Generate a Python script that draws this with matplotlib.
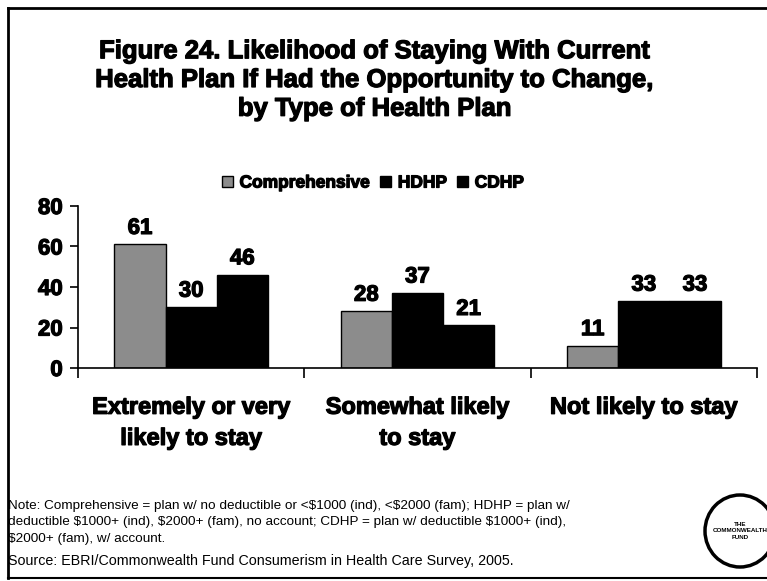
import numpy as np
from matplotlib import pyplot as plt
from matplotlib import patheffects
from matplotlib.patches import Ellipse
from matplotlib.lines import Line2D

# Data
categories = ['Extremely or very\nlikely to stay', 'Somewhat likely\nto stay', 'Not likely to stay']
series_names = ['Comprehensive', 'HDHP', 'CDHP']
comprehensive = [61, 28, 11]
hdhp = [30, 37, 33]
cdhp = [46, 21, 33]
y_ticks = [0, 20, 40, 60, 80]

title = ('Figure 24. Likelihood of Staying With Current\n'
         'Health Plan If Had the Opportunity to Change,\n'
         'by Type of Health Plan')
note = ('Note: Comprehensive = plan w/ no deductible or <\\$1000 (ind), <\\$2000 (fam); HDHP = plan w/\n'
        'deductible \\$1000+ (ind), \\$2000+ (fam), no account; CDHP = plan w/ deductible \\$1000+ (ind),\n'
        '\\$2000+ (fam), w/ account.')
source = 'Source: EBRI/Commonwealth Fund Consumerism in Health Care Survey, 2005.'

plt.rcParams['font.family'] = ['Liberation Sans', 'DejaVu Sans']

# the slide uses a heavy face; thicken the bold text a little
heavy = [patheffects.withStroke(linewidth=0.9, foreground='black')]

W, H = 767, 581
fig = plt.figure(figsize=(W / 100, H / 100), dpi=100)

# Frame round the slide
fig.add_artist(Line2D([8 / W, 8 / W], [1 - 8 / H, 1 - 578 / H], color='black', lw=2))
fig.add_artist(Line2D([8 / W, 1.0], [1 - 8 / H, 1 - 8 / H], color='black', lw=2))
fig.add_artist(Line2D([8 / W, 1.0], [1 - 578 / H, 1 - 578 / H], color='black', lw=1.5))

fig.text(375 / W, 1 - 80 / H, title, ha='center', va='center', fontsize=18.5,
         fontweight='bold', linespacing=1.25, path_effects=heavy)

ax = fig.add_axes([78 / W, 1 - 368 / H, (757 - 78) / W, (368 - 206) / H])

x = np.arange(len(categories))
width = 0.226
colors = ['#8c8c8c', 'black', 'black']
series = [comprehensive, hdhp, cdhp]
for i, (name, vals) in enumerate(zip(series_names, series)):
    bars = ax.bar(x + (i - 1) * width, vals, width, color=colors[i], edgecolor='black',
                  linewidth=1, label=name)
    for b, v in zip(bars, vals):
        ax.annotate(str(v), (b.get_x() + b.get_width() / 2, v), xytext=(0, 4),
                    textcoords='offset points', ha='center', va='bottom',
                    fontsize=16, fontweight='bold', path_effects=heavy)

ax.set_xlim(-0.5, 2.5)
ax.set_ylim(0, 80)
ax.set_yticks(y_ticks)
ax.set_yticklabels([str(t) for t in y_ticks], fontsize=16, fontweight='bold', path_effects=heavy)
ax.tick_params(axis='y', length=6, width=1.2, pad=5)

ax.set_xticks(x)
ax.set_xticklabels(categories, fontsize=17, fontweight='bold', linespacing=1.45,
                   path_effects=heavy)
ax.tick_params(axis='x', length=0, pad=20)
ax.set_xticks([-0.5, 0.5, 1.5, 2.5], minor=True)
ax.tick_params(axis='x', which='minor', length=7, width=1.2, direction='out')

for side in ['top', 'right']:
    ax.spines[side].set_visible(False)
ax.spines['left'].set_linewidth(1.2)
ax.spines['bottom'].set_linewidth(1.2)

leg = fig.legend(loc='center', bbox_to_anchor=(373 / W, 1 - 183 / H), ncol=3, frameon=False,
                 prop={'size': 12.5, 'weight': 'bold'}, handlelength=0.6, handleheight=0.6,
                 handletextpad=0.4, columnspacing=0.6)
for t in leg.get_texts():
    t.set_path_effects(heavy)

fig.text(8 / W, 1 - 500 / H, note, ha='left', va='top', fontsize=9.7, linespacing=1.5)
fig.text(8 / W, 1 - 561 / H, source, ha='left', va='center', fontsize=10.3)

# Commonwealth Fund logo, cut at the right edge
logo = Ellipse((740 / W, 1 - 531 / H), 70 / W, 72 / H, transform=fig.transFigure,
               fill=False, edgecolor='black', lw=2.5)
fig.add_artist(logo)
fig.text(740 / W, 1 - 531 / H, 'THE\nCOMMONWEALTH\nFUND', ha='center', va='center',
         fontsize=4.5, fontweight='bold', linespacing=1.3)

fig.savefig('out.png', dpi=100)
